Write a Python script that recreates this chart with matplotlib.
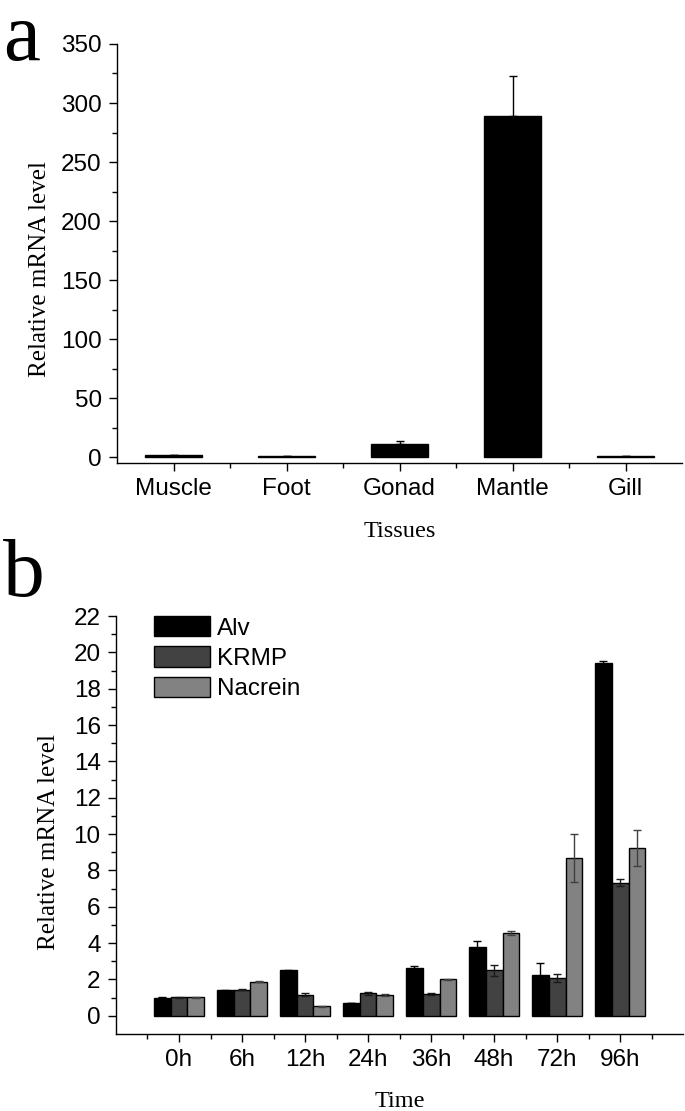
import numpy as np
import matplotlib
matplotlib.use("Agg")
import matplotlib.pyplot as plt
from matplotlib.ticker import MultipleLocator, FixedLocator

# ---- panel a data: tissue distribution ----
tissues = ["Muscle", "Foot", "Gonad", "Mantle", "Gill"]
tissue_mean = [1.7, 1.0, 10.8, 289.0, 0.8]
tissue_err = [0.3, 0.2, 3.2, 34.0, 0.3]

# ---- panel b data: time course ----
times = ["0h", "6h", "12h", "24h", "36h", "48h", "72h", "96h"]
alv = [1.0, 1.40, 2.50, 0.70, 2.64, 3.78, 2.25, 19.40]
alv_err = [0.03, 0.04, 0.04, 0.02, 0.08, 0.35, 0.65, 0.15]
krmp = [1.02, 1.44, 1.16, 1.23, 1.20, 2.50, 2.08, 7.32]
krmp_err = [0.04, 0.02, 0.07, 0.10, 0.08, 0.30, 0.20, 0.20]
nacrein = [1.02, 1.88, 0.53, 1.15, 2.00, 4.57, 8.68, 9.25]
nacrein_err = [0.04, 0.04, 0.02, 0.07, 0.04, 0.10, 1.32, 1.00]

series = [("Alv", alv, alv_err, "#000000", "#000000"),
          ("KRMP", krmp, krmp_err, "#424242", "#1a1a1a"),
          ("Nacrein", nacrein, nacrein_err, "#828282", "#404040")]

sans = "Liberation Sans"
serif = "Liberation Serif"
tick_fs = 17.5


def style_axes(ax):
    for side in ("top", "right"):
        ax.spines[side].set_visible(False)
    for side in ("left", "bottom"):
        ax.spines[side].set_linewidth(1.0)
    ax.tick_params(which="major", direction="out", length=6, width=1.0, pad=5)
    ax.tick_params(which="minor", direction="out", length=3.5, width=1.0)
    for lab in ax.get_xticklabels() + ax.get_yticklabels():
        lab.set_fontfamily(sans)
        lab.set_fontsize(tick_fs)


fig = plt.figure(figsize=(6.85, 11.11), dpi=100)

# ---------------- panel a ----------------
ax1 = fig.add_axes([0.1708, 0.5833, 0.825, 0.3771])
x1 = np.arange(1, len(tissues) + 1)
ax1.bar(x1, tissue_mean, width=0.5, color="black", edgecolor="black", linewidth=1.0,
        yerr=[np.zeros(len(tissue_err)), tissue_err], capsize=3,
        error_kw=dict(ecolor="black", elinewidth=1.0, capthick=1.0))
ax1.set_xlim(0.5, 5.5)
ax1.set_ylim(-5, 350)
ax1.yaxis.set_major_locator(FixedLocator(np.arange(0, 351, 50)))
ax1.yaxis.set_minor_locator(FixedLocator(np.arange(25, 351, 50)))
ax1.set_xticks(x1)
ax1.set_xticklabels(tissues)
ax1.xaxis.set_minor_locator(FixedLocator(np.arange(1.5, 5.0, 1.0)))
style_axes(ax1)
ax1.tick_params(axis="x", which="major", pad=5)
ax1.set_ylabel("Relative mRNA level", fontfamily=serif, fontsize=18)
ax1.yaxis.set_label_coords(-0.117, 0.463)
ax1.set_xlabel("Tissues", fontfamily=serif, fontsize=17.5, labelpad=15)
fig.text(0.005, 0.998, "a", fontfamily=serif, fontsize=60, va="top", ha="left")

# ---------------- panel b ----------------
ax2 = fig.add_axes([0.1693, 0.0693, 0.828, 0.3762])
x2 = np.arange(1, len(times) + 1)
w = 0.268
for i, (name, vals, errs, col, ecol) in enumerate(series):
    ax2.bar(x2 + (i - 1) * w, vals, width=w, color=col, edgecolor="black",
            linewidth=1.0, label=name, yerr=errs, capsize=3,
            error_kw=dict(ecolor=ecol, elinewidth=1.0, capthick=1.0))
ax2.set_xlim(0, 9)
ax2.set_ylim(-1, 22)
ax2.yaxis.set_major_locator(MultipleLocator(2))
ax2.yaxis.set_minor_locator(FixedLocator(np.arange(1, 22, 2)))
ax2.set_xticks(x2)
ax2.set_xticklabels(times)
ax2.xaxis.set_minor_locator(FixedLocator(np.arange(0.5, 9.0, 1.0)))
style_axes(ax2)
ax2.tick_params(axis="x", which="major", pad=5)
ax2.set_ylabel("Relative mRNA level", fontfamily=serif, fontsize=18)
ax2.yaxis.set_label_coords(-0.099, 0.459)
ax2.set_xlabel("Time", fontfamily=serif, fontsize=17.5, labelpad=14)
leg = ax2.legend(loc="upper left", bbox_to_anchor=(0.067, 1.0), frameon=False,
                 borderpad=0, borderaxespad=0, handlelength=2.3, handleheight=0.9,
                 handletextpad=0.3, labelspacing=0.28,
                 prop=dict(family=sans, size=tick_fs))
fig.text(0.005, 0.515, "b", fontfamily=serif, fontsize=60, va="top", ha="left")

fig.savefig("out.png", dpi=100)
